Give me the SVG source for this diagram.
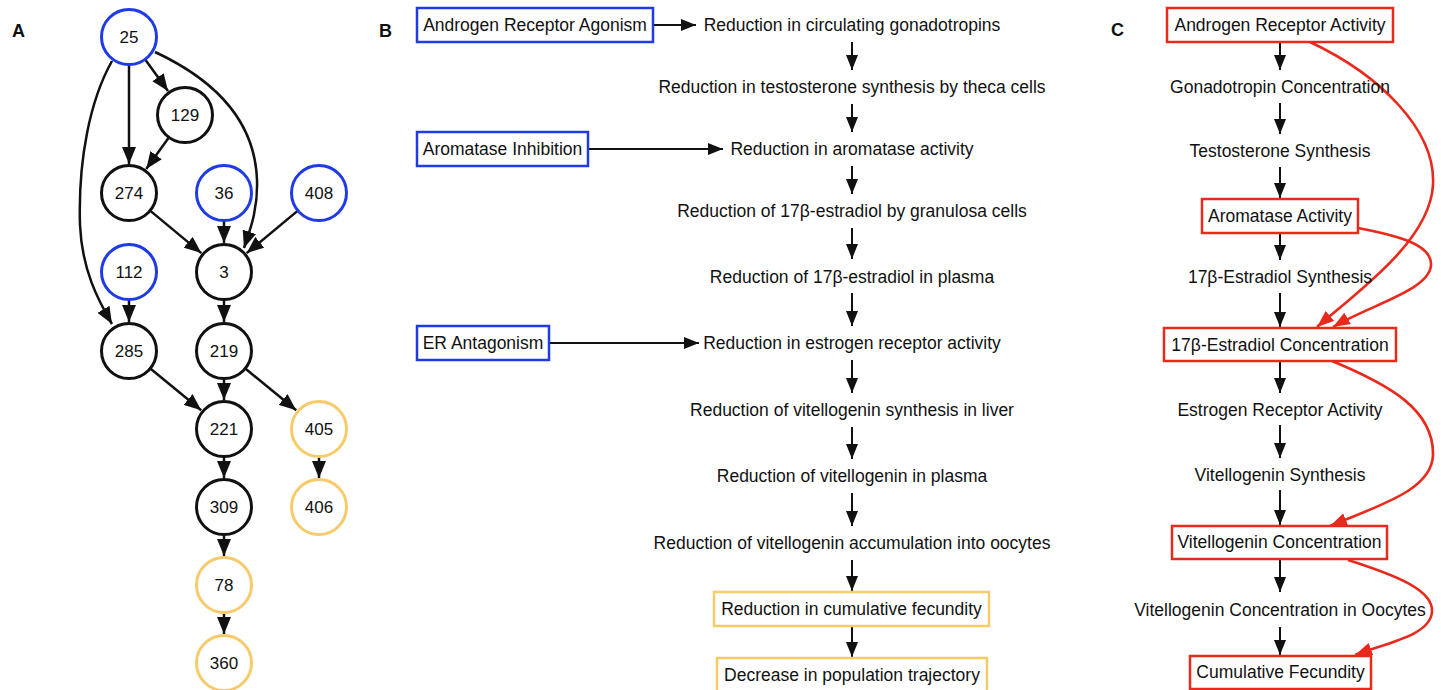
<svg xmlns="http://www.w3.org/2000/svg" width="1441" height="690" viewBox="0 0 1441 690">
<style>
text{font-family:"Liberation Sans",Arial,Helvetica,sans-serif;fill:#111}
.t{font-size:17.5px;text-anchor:middle}
.n{font-size:17px;text-anchor:middle}
.lab{font-size:18px;font-weight:bold}
.cb{fill:#fff;stroke:#1f3be6;stroke-width:3}
.ck{fill:#fff;stroke:#111;stroke-width:3}
.cy{fill:#fff;stroke:#f8cb6a;stroke-width:3}
.bb{fill:#fff;stroke:#1f3be6;stroke-width:2.5}
.by{fill:#fff;stroke:#f8cb6a;stroke-width:2.5}
.br{fill:#fff;stroke:#e8291c;stroke-width:2.5}
.e{fill:none;stroke:#111;stroke-width:2.5;marker-end:url(#ak)}
.eb{fill:none;stroke:#111;stroke-width:2;marker-end:url(#ak2)}
.er{fill:none;stroke:#e8291c;stroke-width:2.6;marker-end:url(#ar)}
</style>
<defs>
<marker id="ak" markerUnits="userSpaceOnUse" markerWidth="17" markerHeight="14" refX="17" refY="7" orient="auto"><path d="M0,0 L17,7 L0,14 z" fill="#111"/></marker>
<marker id="ak2" markerUnits="userSpaceOnUse" markerWidth="15" markerHeight="12" refX="15" refY="6" orient="auto"><path d="M0,0 L15,6 L0,12 z" fill="#111"/></marker>
<marker id="ar" markerUnits="userSpaceOnUse" markerWidth="17" markerHeight="13" refX="17" refY="6.5" orient="auto"><path d="M0,0 L17,6.5 L0,13 z" fill="#e8291c"/></marker>
</defs>
<rect width="1441" height="690" fill="#fff"/>
<text class="lab" x="12" y="37">A</text>
<text class="lab" x="379" y="37">B</text>
<text class="lab" x="1111" y="36">C</text>

<g id="connectors">
<path class="e" d="M129,64.5 L129,164"/>
<path class="e" d="M145,59.3 L168,91"/>
<path class="e" d="M169,137.3 L146.2,169"/>
<path class="e" d="M155,52 C215,80 255,120 257,180 C258,210 250,230 244,248"/>
<path class="e" d="M112,61 C90,100 78,160 80,225 C82,270 98,300 112,324"/>
<path class="e" d="M150.1,210.6 L201.3,253.1"/>
<path class="e" d="M224,220.5 L224,243"/>
<path class="e" d="M297.9,210.6 L246.7,253.1"/>
<path class="e" d="M129,299.5 L129,322"/>
<path class="e" d="M224,299.5 L224,322"/>
<path class="e" d="M150.3,368.5 L201.2,410.3"/>
<path class="e" d="M224,378.5 L224,400"/>
<path class="e" d="M245.3,368.5 L296.2,410.3"/>
<path class="e" d="M224,456.5 L224,478"/>
<path class="e" d="M319,456.5 L319,478"/>
<path class="e" d="M224,534.5 L224,556"/>
<path class="e" d="M224,612.5 L224,634"/>

<path class="eb" d="M653,25 L696,25"/>
<path class="eb" d="M588,149 L723,149"/>
<path class="eb" d="M549,343 L699,343"/>
<path class="eb" d="M852,42 L852,70"/>
<path class="eb" d="M852,104 L852,132"/>
<path class="eb" d="M852,166 L852,194"/>
<path class="eb" d="M852,228 L852,259"/>
<path class="eb" d="M852,293 L852,326"/>
<path class="eb" d="M852,360 L852,393"/>
<path class="eb" d="M852,427 L852,459"/>
<path class="eb" d="M852,493 L852,526"/>
<path class="eb" d="M852,560 L852,591"/>
<path class="eb" d="M852,626 L852,657"/>

<path class="eb" d="M1280,42 L1280,70"/>
<path class="eb" d="M1280,103 L1280,134"/>
<path class="eb" d="M1280,167 L1280,198"/>
<path class="eb" d="M1280,233 L1280,260"/>
<path class="eb" d="M1280,293 L1280,327"/>
<path class="eb" d="M1280,361 L1280,393"/>
<path class="eb" d="M1280,425 L1280,458"/>
<path class="eb" d="M1280,490 L1280,525"/>
<path class="eb" d="M1280,559 L1280,592"/>
<path class="eb" d="M1280,627 L1280,655"/>

<path class="er" d="M1310,42 C1380,75 1436,130 1433,185 C1430,240 1360,290 1317,327"/>
<path class="er" d="M1358,228 C1400,236 1432,245 1431,265 C1430,290 1370,305 1333,327"/>
<path class="er" d="M1332,361 C1390,385 1434,410 1433,455 C1432,490 1380,505 1330,526"/>
<path class="er" d="M1348,560 C1395,575 1434,590 1432,612 C1430,635 1390,642 1355,655"/>
</g>

<g id="a25"><circle class="cb" cx="129" cy="37" r="27.5"/><text class="n" x="129" y="43">25</text></g>
<g id="a129"><circle class="ck" cx="185" cy="115" r="27.5"/><text class="n" x="185" y="121">129</text></g>
<g id="a274"><circle class="ck" cx="129" cy="193" r="27.5"/><text class="n" x="129" y="199">274</text></g>
<g id="a36"><circle class="cb" cx="224" cy="193" r="27.5"/><text class="n" x="224" y="199">36</text></g>
<g id="a408"><circle class="cb" cx="319" cy="193" r="27.5"/><text class="n" x="319" y="199">408</text></g>
<g id="a112"><circle class="cb" cx="129" cy="272" r="27.5"/><text class="n" x="129" y="278">112</text></g>
<g id="a3"><circle class="ck" cx="224" cy="272" r="27.5"/><text class="n" x="224" y="278">3</text></g>
<g id="a285"><circle class="ck" cx="129" cy="351" r="27.5"/><text class="n" x="129" y="357">285</text></g>
<g id="a219"><circle class="ck" cx="224" cy="351" r="27.5"/><text class="n" x="224" y="357">219</text></g>
<g id="a221"><circle class="ck" cx="224" cy="429" r="27.5"/><text class="n" x="224" y="435">221</text></g>
<g id="a405"><circle class="cy" cx="319" cy="429" r="27.5"/><text class="n" x="319" y="435">405</text></g>
<g id="a309"><circle class="ck" cx="224" cy="507" r="27.5"/><text class="n" x="224" y="513">309</text></g>
<g id="a406"><circle class="cy" cx="319" cy="507" r="27.5"/><text class="n" x="319" y="513">406</text></g>
<g id="a78"><circle class="cy" cx="224" cy="585" r="27.5"/><text class="n" x="224" y="591">78</text></g>
<g id="a360"><circle class="cy" cx="224" cy="663" r="27.5"/><text class="n" x="224" y="669">360</text></g>

<g id="b-ara"><rect class="bb" x="417" y="8" width="236" height="34"/><text class="t" x="535" y="31">Androgen Receptor Agonism</text></g>
<g id="b-ai"><rect class="bb" x="417" y="132" width="171" height="34"/><text class="t" x="502.5" y="155">Aromatase Inhibition</text></g>
<g id="b-era"><rect class="bb" x="417" y="326" width="132" height="34"/><text class="t" x="483" y="349">ER Antagonism</text></g>
<g id="b1"><text class="t" x="852" y="31">Reduction in circulating gonadotropins</text></g>
<g id="b2"><text class="t" x="852" y="93">Reduction in testosterone synthesis by theca cells</text></g>
<g id="b3"><text class="t" x="852" y="155">Reduction in aromatase activity</text></g>
<g id="b4"><text class="t" x="852" y="217">Reduction of 17β-estradiol by granulosa cells</text></g>
<g id="b5"><text class="t" x="852" y="283">Reduction of 17β-estradiol in plasma</text></g>
<g id="b6"><text class="t" x="852" y="349">Reduction in estrogen receptor activity</text></g>
<g id="b7"><text class="t" x="852" y="416">Reduction of vitellogenin synthesis in liver</text></g>
<g id="b8"><text class="t" x="852" y="482">Reduction of vitellogenin in plasma</text></g>
<g id="b9"><text class="t" x="852" y="549">Reduction of vitellogenin accumulation into oocytes</text></g>
<g id="b10"><rect class="by" x="714" y="592" width="275" height="34"/><text class="t" x="851.5" y="615">Reduction in cumulative fecundity</text></g>
<g id="b11"><rect class="by" x="717" y="658" width="270" height="36"/><text class="t" x="852" y="681">Decrease in population trajectory</text></g>

<g id="c1"><rect class="br" x="1167" y="8" width="226" height="34"/><text class="t" x="1280" y="31">Androgen Receptor Activity</text></g>
<g id="c2"><text class="t" x="1280" y="93">Gonadotropin Concentration</text></g>
<g id="c3"><text class="t" x="1280" y="157">Testosterone Synthesis</text></g>
<g id="c4"><rect class="br" x="1202" y="199" width="156" height="34"/><text class="t" x="1280" y="222">Aromatase Activity</text></g>
<g id="c5"><text class="t" x="1280" y="283">17β-Estradiol Synthesis</text></g>
<g id="c6"><rect class="br" x="1164" y="328" width="232" height="33"/><text class="t" x="1280" y="351">17β-Estradiol Concentration</text></g>
<g id="c7"><text class="t" x="1280" y="416">Estrogen Receptor Activity</text></g>
<g id="c8"><text class="t" x="1280" y="481">Vitellogenin Synthesis</text></g>
<g id="c9"><rect class="br" x="1172" y="526" width="215" height="33"/><text class="t" x="1279.5" y="548">Vitellogenin Concentration</text></g>
<g id="c10"><text class="t" x="1280" y="616">Vitellogenin Concentration in Oocytes</text></g>
<g id="c11"><rect class="br" x="1190" y="656" width="181" height="33"/><text class="t" x="1280.5" y="678">Cumulative Fecundity</text></g>
</svg>
